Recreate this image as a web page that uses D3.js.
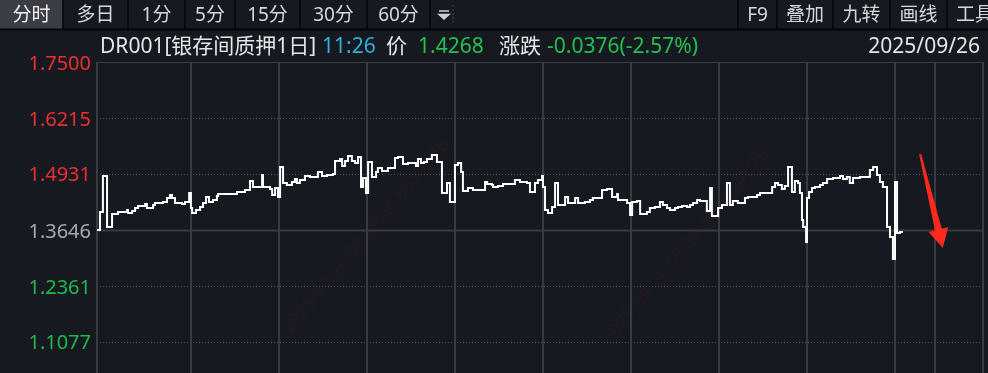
<!DOCTYPE html>
<html>
<head>
<meta charset="utf-8">
<script src="https://cdn.jsdelivr.net/npm/d3@7"></script>
<style>
  body { margin: 0; background: #16191f; overflow: hidden; }
  svg { display: block; }
</style>
</head>
<body>
<svg id="chart" width="988" height="373"></svg>
<script>
// data
const tabsLeft = ['分时', '多日', '1分', '5分', '15分', '30分', '60分'];
const tabsRight = ['F9', '叠加', '九转', '画线', '工具'];
const yTicks = [1.7500, 1.6215, 1.4931, 1.3646, 1.2361, 1.1077];
const refRate = 1.3646;
const gridMinutes = [31.8, 61.6, 91.4, 121.2, 151.0, 180.8, 210.6, 240.4, 270.2, 283.7];
const sessionMinutes = 300;
const lastMinute = 272.9;
// [minute, rate] : rate holds from that minute until the next step
const rateSteps = [
  [0, 1.3646], [1.0, 1.4059], [2.0, 1.4885], [3.4, 1.3715], [5.1, 1.4013], [7.1, 1.4059],
  [10.2, 1.4105], [10.5, 1.4036], [11.9, 1.4082], [12.9, 1.4151], [13.9, 1.4197], [16.3, 1.4243],
  [16.9, 1.4151], [19.0, 1.4220], [19.6, 1.4265], [22.3, 1.4288], [23.7, 1.4380], [24.7, 1.4449],
  [25.4, 1.4380], [26.4, 1.4265], [28.8, 1.4243], [29.8, 1.4288], [31.2, 1.4495], [31.8, 1.4151],
  [32.2, 1.4036], [33.5, 1.4105], [34.9, 1.4174], [35.9, 1.4265], [36.9, 1.4403], [37.9, 1.4288],
  [39.3, 1.4334], [40.6, 1.4426], [41.0, 1.4472], [47.4, 1.4518], [50.1, 1.4564], [51.8, 1.4770],
  [52.8, 1.4632], [55.9, 1.4908], [56.2, 1.4632], [58.6, 1.4587], [59.3, 1.4449], [60.3, 1.4610],
  [61.3, 1.4403], [62.0, 1.5091], [63.0, 1.4724], [64.3, 1.4678], [66.0, 1.4747], [67.0, 1.4816],
  [67.7, 1.4724], [68.7, 1.4793], [70.4, 1.4885], [72.1, 1.4862], [74.8, 1.4977], [76.2, 1.4885],
  [77.9, 1.4908], [79.9, 1.4931], [80.6, 1.5229], [82.3, 1.5275], [83.0, 1.5114], [84.0, 1.5229],
  [85.0, 1.5344], [86.3, 1.5229], [87.4, 1.5183], [88.4, 1.5321], [89.4, 1.4632], [90.1, 1.4839],
  [91.1, 1.4495], [91.8, 1.5206], [93.1, 1.4862], [94.5, 1.4977], [95.1, 1.5068], [96.5, 1.4999],
  [98.5, 1.5068], [100.9, 1.5298], [101.9, 1.5321], [103.6, 1.5160], [105.3, 1.5183], [108.0, 1.5114],
  [108.7, 1.5275], [109.7, 1.5183], [110.7, 1.5206], [111.7, 1.5275], [113.4, 1.5367], [115.1, 1.5206],
  [116.8, 1.4495], [118.5, 1.4724], [119.5, 1.4288], [121.2, 1.5137], [122.2, 1.5183], [123.3, 1.4977],
  [123.9, 1.4541], [125.6, 1.4610], [127.3, 1.4564], [131.4, 1.4747], [132.1, 1.4701], [133.7, 1.4678],
  [134.1, 1.4632], [135.8, 1.4655], [137.5, 1.4701], [141.5, 1.4793], [143.2, 1.4747], [145.6, 1.4724],
  [146.6, 1.4518], [148.3, 1.4724], [149.3, 1.4793], [150.7, 1.4885], [151.0, 1.4632], [151.7, 1.4105],
  [152.7, 1.4036], [154.1, 1.4174], [155.1, 1.4724], [156.1, 1.4220], [158.5, 1.4403], [159.5, 1.4265],
  [161.9, 1.4380], [162.9, 1.4265], [165.2, 1.4288], [166.9, 1.4334], [167.9, 1.4380], [171.0, 1.4564],
  [172.7, 1.4587], [174.4, 1.4403], [176.1, 1.4472], [176.4, 1.4334], [179.5, 1.4265], [180.5, 1.3990],
  [181.2, 1.4288], [182.8, 1.4311], [183.9, 1.4013], [186.2, 1.4059], [187.2, 1.4151], [188.9, 1.4174],
  [190.6, 1.4288], [191.6, 1.4220], [193.0, 1.4151], [194.0, 1.4105], [195.7, 1.4151], [196.7, 1.4174],
  [198.1, 1.4197], [199.8, 1.4174], [200.8, 1.4220], [201.8, 1.4265], [203.2, 1.4334], [204.2, 1.4311],
  [206.5, 1.4082], [207.6, 1.4610], [208.2, 1.3967], [210.3, 1.4151], [211.6, 1.4220], [213.3, 1.4724],
  [214.3, 1.4220], [215.3, 1.4311], [217.0, 1.4265], [219.4, 1.4380], [220.4, 1.4403], [223.5, 1.4449],
  [224.5, 1.4495], [228.6, 1.4632], [229.6, 1.4724], [230.6, 1.4678], [231.9, 1.4587], [232.9, 1.4655],
  [234.0, 1.5091], [235.3, 1.4518], [236.3, 1.4770], [237.4, 1.4724], [238.0, 1.4495], [238.7, 1.3875],
  [239.1, 1.3715], [240.1, 1.3371], [240.4, 1.4380], [241.1, 1.4518], [242.1, 1.4610], [243.1, 1.4632],
  [244.8, 1.4678], [245.8, 1.4724], [247.2, 1.4816], [249.2, 1.4839], [251.6, 1.4885], [252.6, 1.4816],
  [253.9, 1.4862], [254.9, 1.4724], [256.0, 1.4839], [258.3, 1.4862], [261.7, 1.5022], [262.8, 1.5091],
  [264.1, 1.4908], [265.1, 1.4747], [266.1, 1.4632], [267.5, 1.3715], [268.5, 1.3485], [269.5, 1.2981],
  [270.2, 1.4747], [270.9, 1.3577], [271.9, 1.3600]
];

const svg = d3.select('#chart');
const W = 988, H = 373;
const plot = { left: 97, right: 983, top: 62 };
const bg = '#16191f';
const gridColor = '#393a42';
const font = '"Noto Sans", "Noto Sans CJK SC", sans-serif';

svg.append('rect').attr('width', W).attr('height', H).attr('fill', bg);

// scales
const x = d3.scaleLinear().domain([0, sessionMinutes]).range([plot.left, plot.right]);
const y = d3.scaleLinear().domain([yTicks[0], refRate]).range([plot.top, 230]);

// faint watermark
const wm = svg.append('g').attr('fill', '#5a1c20').attr('opacity', 0.22)
  .attr('font-family', font).attr('font-size', 18);
[[290, 335], [610, 345]].forEach(p => {
  wm.append('text').attr('transform', `translate(${p[0]},${p[1]}) rotate(-50)`)
    .text('2025-09-26 09:29:30 89:4A:7B');
});

// toolbar
const tabEdges = [0, 63, 128, 185, 235, 300, 367, 430];
svg.append('rect').attr('x', 0).attr('y', 0).attr('width', 63).attr('height', 29).attr('fill', '#3b3c44');
tabsLeft.forEach((t, i) => {
  svg.append('text').attr('x', (tabEdges[i] + tabEdges[i + 1]) / 2).attr('y', 21)
    .attr('text-anchor', 'middle').attr('font-family', font).attr('font-size', 19)
    .attr('fill', i === 0 ? '#f0f0f0' : '#d8d8d8').text(t);
});
tabEdges.slice(1).forEach(e => {
  svg.append('line').attr('x1', e).attr('x2', e).attr('y1', 0).attr('y2', 29)
    .attr('stroke', '#05070a').attr('stroke-width', 1.5);
});
svg.append('path').attr('d', 'M439,11 L449,11 M439,14.5 L449,14.5 L444,19 Z')
  .attr('stroke', '#cfcfcf').attr('fill', '#cfcfcf').attr('stroke-width', 1.5);
svg.append('line').attr('x1', 453).attr('x2', 453).attr('y1', 5).attr('y2', 24)
  .attr('stroke', '#555').attr('stroke-dasharray', '1.5,2.5');

const rightEdges = [738, 777, 833, 890, 947, 1003];
tabsRight.forEach((t, i) => {
  svg.append('text').attr('x', (rightEdges[i] + rightEdges[i + 1]) / 2).attr('y', 21)
    .attr('text-anchor', 'middle').attr('font-family', font).attr('font-size', 19)
    .attr('fill', '#d8d8d8').text(t);
});
rightEdges.slice(0, 5).forEach(e => {
  svg.append('line').attr('x1', e).attr('x2', e).attr('y1', 0).attr('y2', 29)
    .attr('stroke', '#05070a').attr('stroke-width', 1.5);
});
svg.append('line').attr('x1', 0).attr('x2', W).attr('y1', 29.5).attr('y2', 29.5)
  .attr('stroke', '#05070a').attr('stroke-width', 2);

// header line
const header = [
  { text: 'DR001[银存间质押1日]', x: 100, color: '#e6e6e6' },
  { text: '11:26', x: 322, color: '#2fb1dc' },
  { text: '价', x: 386, color: '#e6e6e6' },
  { text: '1.4268', x: 418, color: '#22c04f' },
  { text: '涨跌', x: 499, color: '#e6e6e6' },
  { text: '-0.0376(-2.57%)', x: 547, color: '#22c04f' }
];
svg.append('g').selectAll('text').data(header).join('text')
  .attr('x', d => d.x).attr('y', 53).attr('font-family', font).attr('font-size', 21)
  .attr('fill', d => d.color).text(d => d.text);
svg.append('text').attr('x', 980).attr('y', 53).attr('text-anchor', 'end')
  .attr('font-family', font).attr('font-size', 21).attr('fill', '#e6e6e6').text('2025/09/26');

// grid
const grid = svg.append('g');
yTicks.slice(1).forEach(v => {
  const solid = v === refRate;
  grid.append('line').attr('x1', plot.left).attr('x2', plot.right)
    .attr('y1', Math.round(y(v)) + 0.5).attr('y2', Math.round(y(v)) + 0.5)
    .attr('stroke', solid ? gridColor : '#4d4e56')
    .attr('stroke-width', solid ? 2 : 1)
    .attr('stroke-dasharray', solid ? null : '1,2');
});
grid.append('line').attr('x1', plot.left).attr('x2', plot.right)
  .attr('y1', plot.top + 0.5).attr('y2', plot.top + 0.5).attr('stroke', gridColor).attr('stroke-width', 1);
[0, ...gridMinutes, sessionMinutes].forEach(m => {
  grid.append('line').attr('x1', Math.round(x(m))).attr('x2', Math.round(x(m)))
    .attr('y1', plot.top).attr('y2', H).attr('stroke', gridColor).attr('stroke-width', 2);
});

// y labels
svg.append('g').selectAll('text').data(yTicks).join('text')
  .attr('x', 91).attr('y', d => y(d) + 7.5)
  .attr('text-anchor', 'end').attr('font-family', font).attr('font-size', 20)
  .attr('fill', d => d > refRate ? '#ee2f2f' : d < refRate ? '#1fb84a' : '#a9a9ad')
  .text(d => d.toFixed(4));

// price line
const pts = rateSteps.concat([[lastMinute, rateSteps[rateSteps.length - 1][1]]]);
const line = d3.line().x(d => x(d[0])).y(d => y(d[1])).curve(d3.curveStepAfter);
svg.append('path').datum(pts).attr('d', line)
  .attr('fill', 'none').attr('stroke', '#ffffff').attr('stroke-width', 2)
  .attr('stroke-linejoin', 'miter');

// red arrow annotation
const tail = [x(278.7), y(1.539)], tip = [x(286.4), y(1.3233)];
const dx = tip[0] - tail[0], dy = tip[1] - tail[1], len = Math.hypot(dx, dy);
const ux = dx / len, uy = dy / len, nx = -uy, ny = ux;
const hb = [tip[0] - ux * 19, tip[1] - uy * 19];
const P = (p, k) => [p[0] + nx * k, p[1] + ny * k];
const arrow = [P(tail, -1), P(tail, 1), P(hb, 3.5), P(hb, 10), tip, P(hb, -10), P(hb, -3.5)];
svg.append('polygon').attr('points', arrow.map(p => p.join(',')).join(' '))
  .attr('fill', '#ff2a1c');
</script>
</body>
</html>
